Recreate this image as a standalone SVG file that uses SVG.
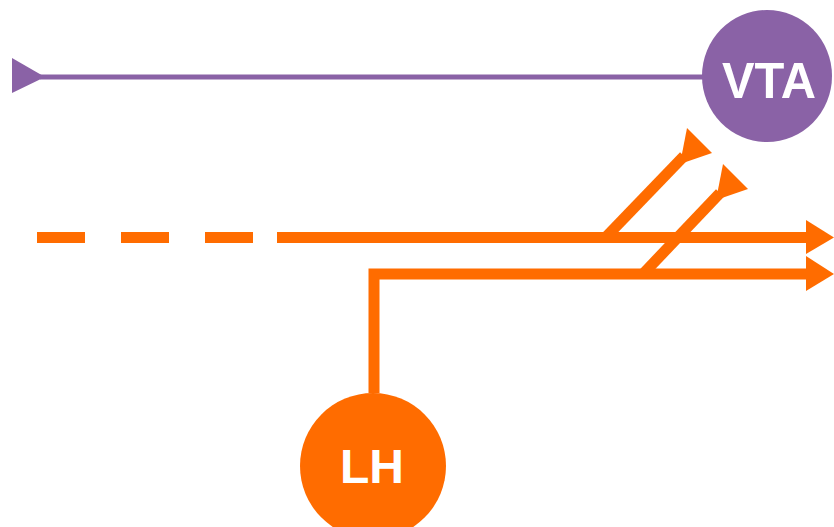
<svg xmlns="http://www.w3.org/2000/svg" width="834" height="527" viewBox="0 0 834 527">
<style>
.o{stroke:#ff6c00;stroke-width:11;fill:none}
.of{fill:#ff6c00}
.p{stroke:#8a62a6;stroke-width:5;fill:none}
.pf{fill:#8a62a6}
.t{font-family:"Liberation Sans",Arial,sans-serif;font-weight:bold;fill:#fff;text-anchor:middle}
</style>
<rect width="834" height="527" fill="#fff"/>
<g id="connectors">
<line class="p" x1="40" y1="77" x2="705" y2="77"/>
<polygon class="pf" points="12,58 12,93 45,77"/>
<line class="o" x1="37" y1="237.5" x2="277" y2="237.5" stroke-dasharray="48 36"/>
<line class="o" x1="277" y1="237.5" x2="812" y2="237.5"/>
<polygon class="of" points="806,220 834,237.5 806,254"/>
<polyline class="o" points="374,393 374,274 812,274"/>
<polygon class="of" points="806,256 834,274 806,291"/>
<line class="o" x1="605" y1="238" x2="684" y2="156"/>
<polygon class="of" points="687,128 712,153 680,164"/>
<line class="o" x1="643" y1="274" x2="720" y2="193"/>
<polygon class="of" points="723,164 748,189 716,200"/>
</g>
<g id="VTA">
<ellipse class="pf" cx="767" cy="76" rx="65" ry="66"/>
<text class="t" x="769" y="98" font-size="50" textLength="94" lengthAdjust="spacingAndGlyphs">VTA</text>
</g>
<g id="LH">
<ellipse class="of" cx="373" cy="466" rx="73" ry="73"/>
<text class="t" x="372" y="483" font-size="48">LH</text>
</g>
</svg>
